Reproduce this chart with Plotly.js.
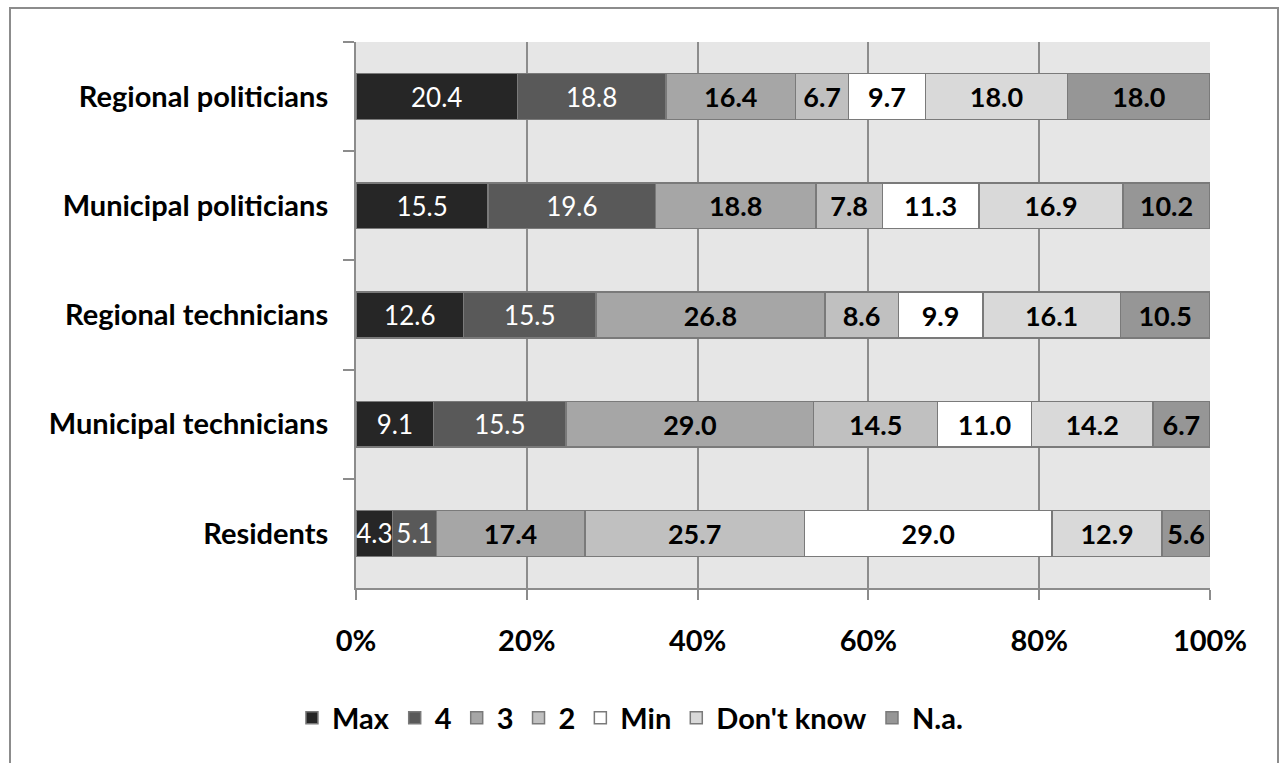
<!DOCTYPE html>
<html>
<head>
<meta charset="utf-8">
<script src="https://cdn.plot.ly/plotly-3.0.1.min.js"></script>
<style>
  html, body { margin: 0; padding: 0; background: #ffffff; }
  #wrap { position: relative; width: 1285px; height: 763px; }
  #chart { width: 1285px; height: 763px; }
  #frame {
    position: absolute; left: 9px; top: 7px; width: 1270px; height: 770px;
    border: 2px solid #8c8c8c; box-sizing: border-box; pointer-events: none;
  }
</style>
</head>
<body>
<div id="wrap">
  <div id="chart"></div>
  <div id="frame"></div>
</div>
<script>
// Respondent groups (top to bottom)
const groups = [
  "Regional politicians",
  "Municipal politicians",
  "Regional technicians",
  "Municipal technicians",
  "Residents"
];

// Answer categories, in stacking order
const answers = ["Max", "4", "3", "2", "Min", "Don't know", "N.a."];

// Shares per answer category, one value per group
const maxVals      = [20.4, 15.5, 12.6,  9.1,  4.3];
const fourVals     = [18.8, 19.6, 15.5, 15.5,  5.1];
const threeVals    = [16.4, 18.8, 26.8, 29.0, 17.4];
const twoVals      = [ 6.7,  7.8,  8.6, 14.5, 25.7];
const minVals      = [ 9.7, 11.3,  9.9, 11.0, 29.0];
const dontKnowVals = [18.0, 16.9, 16.1, 14.2, 12.9];
const naVals       = [18.0, 10.2, 10.5,  6.7,  5.6];

const xTickVals = [0, 20, 40, 60, 80, 100];
const xTickText = ["0%", "20%", "40%", "60%", "80%", "100%"];

const seriesValues = [maxVals, fourVals, threeVals, twoVals, minVals, dontKnowVals, naVals];
const fills = ["#262626", "#595959", "#a6a6a6", "#c0c0c0", "#ffffff", "#d9d9d9", "#969696"];
const labelColors = ["#ffffff", "#ffffff", "#000000", "#000000", "#000000", "#000000", "#000000"];
const labelWeights = ["normal", "normal", "bold", "bold", "bold", "bold", "bold"];
const labelSizes = [26, 26, 27, 27, 27, 27, 27];

const FONT = "Lato, 'Open Sans', sans-serif";

const traces = answers.map((name, i) => ({
  type: "bar",
  orientation: "h",
  name: name,
  y: groups,
  x: seriesValues[i],
  text: seriesValues[i].map(v => v.toFixed(1)),
  texttemplate: "%{text}",
  textposition: "inside",
  insidetextanchor: "middle",
  textangle: 0,
  constraintext: "none",
  insidetextfont: { family: FONT, size: labelSizes[i], color: labelColors[i], weight: labelWeights[i] },
  marker: { color: fills[i], line: { color: "#7a7a7a", width: 1.5 } },
  hoverinfo: "name+x"
}));

const layout = {
  width: 1285,
  height: 763,
  margin: { l: 356, r: 75, t: 42, b: 175 },
  paper_bgcolor: "rgba(0,0,0,0)",
  plot_bgcolor: "#e6e6e6",
  barmode: "stack",
  barnorm: "percent",
  bargap: 0.58,
  font: { family: FONT, size: 29, color: "#000000" },
  xaxis: {
    range: [0, 100],
    tickvals: xTickVals,
    ticktext: xTickText,
    ticks: "outside",
    ticklen: 10,
    tickwidth: 2,
    tickcolor: "#8c8c8c",
    showgrid: true,
    gridcolor: "#8c8c8c",
    gridwidth: 2,
    showline: true,
    linecolor: "#8c8c8c",
    linewidth: 2,
    zeroline: false,
    ticklabelstandoff: 16,
    tickfont: { family: FONT, size: 29, weight: "bold", color: "#000000" },
    fixedrange: true
  },
  yaxis: {
    type: "category",
    autorange: "reversed",
    tickson: "boundaries",
    ticks: "outside",
    ticklen: 11,
    tickwidth: 2,
    tickcolor: "#8c8c8c",
    showgrid: false,
    showline: true,
    linecolor: "#8c8c8c",
    linewidth: 2,
    ticklabelstandoff: 20,
    tickfont: { family: FONT, size: 29, weight: "bold", color: "#000000" },
    fixedrange: true
  },
  legend: {
    orientation: "h",
    x: -0.075,
    xanchor: "left",
    y: -0.238,
    yanchor: "middle",
    font: { family: FONT, size: 29, weight: "bold", color: "#000000" },
    traceorder: "normal",
    bgcolor: "rgba(0,0,0,0)"
  },
  showlegend: true
};

Plotly.newPlot("chart", traces, layout, { displayModeBar: false, staticPlot: true });
</script>
</body>
</html>
